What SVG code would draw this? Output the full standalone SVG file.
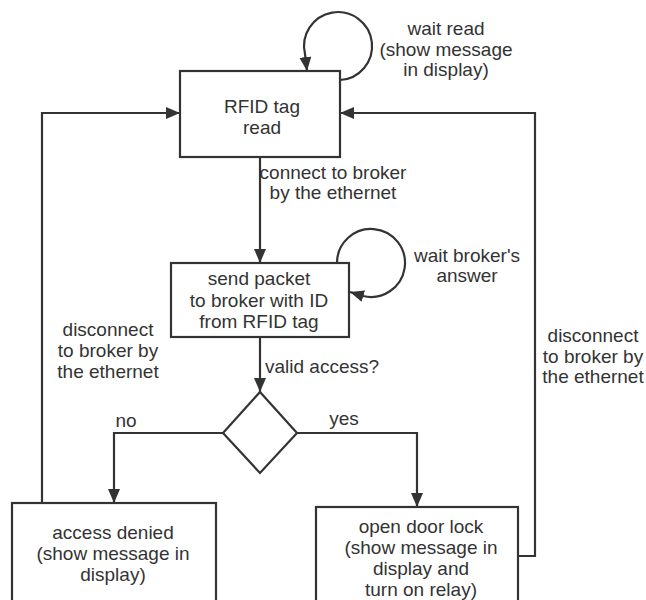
<svg xmlns="http://www.w3.org/2000/svg" width="646" height="600" viewBox="0 0 646 600">
<style>
.box{fill:#fff;stroke:#333;stroke-width:2.2}
.ln{fill:none;stroke:#333;stroke-width:2.2}
.t{font-family:"Liberation Sans",Arial,sans-serif;font-size:19px;fill:#333;text-anchor:middle}
</style>
<defs>
<marker id="arr" viewBox="0 0 14 12" refX="14" refY="6" markerWidth="14" markerHeight="12" markerUnits="userSpaceOnUse" orient="auto">
<path d="M0,0 L14,6 L0,12 z" fill="#333"/>
</marker>
</defs>
<rect width="646" height="600" fill="#fff"/>
<g id="connectors">
<path class="ln" d="M260,157 V263" marker-end="url(#arr)"/>
<path class="ln" d="M260,337 V392" marker-end="url(#arr)"/>
<path class="ln" d="M223,433 H114 V503" marker-end="url(#arr)"/>
<path class="ln" d="M297,433 H417 V507" marker-end="url(#arr)"/>
<path class="ln" d="M42,503 V113 H180" marker-end="url(#arr)"/>
<path class="ln" d="M518,556 H535 V113 H340" marker-end="url(#arr)"/>
<path class="ln" d="M340,80 A34,34 0 1 0 305,54 L307,71" marker-end="url(#arr)"/>
<path class="ln" d="M337,263 A34,34 0 1 1 363,296 L350,292" marker-end="url(#arr)"/>
<text class="t" x="446" y="35">wait read</text>
<text class="t" x="446" y="55.5">(show message</text>
<text class="t" x="446" y="76">in display)</text>
<text class="t" x="333" y="179">connect to broker</text>
<text class="t" x="333" y="199">by the ethernet</text>
<text class="t" x="467" y="262">wait broker's</text>
<text class="t" x="467" y="282">answer</text>
<text class="t" x="108" y="336">disconnect</text>
<text class="t" x="108" y="357">to broker by</text>
<text class="t" x="108" y="378">the ethernet</text>
<text class="t" x="593" y="342">disconnect</text>
<text class="t" x="593" y="363">to broker by</text>
<text class="t" x="593" y="383">the ethernet</text>
<text class="t" x="322" y="373">valid access?</text>
<text class="t" x="126" y="427">no</text>
<text class="t" x="344" y="425">yes</text>
</g>
<g id="rfid">
<rect class="box" x="180" y="71" width="160" height="86"/>
<text class="t" x="262" y="113">RFID tag</text>
<text class="t" x="262" y="134">read</text>
</g>
<g id="send">
<rect class="box" x="171" y="263" width="178" height="74"/>
<text class="t" x="259" y="285">send packet</text>
<text class="t" x="259" y="307">to broker with ID</text>
<text class="t" x="259" y="328">from RFID tag</text>
</g>
<g id="decision">
<polygon class="box" points="260,392 297,433 260,473 223,433"/>
</g>
<g id="denied">
<rect class="box" x="12" y="503" width="204" height="110"/>
<text class="t" x="113" y="539">access denied</text>
<text class="t" x="113" y="560">(show message in</text>
<text class="t" x="113" y="581">display)</text>
</g>
<g id="open">
<rect class="box" x="316" y="507" width="202" height="110"/>
<text class="t" x="421" y="533">open door lock</text>
<text class="t" x="421" y="554">(show message in</text>
<text class="t" x="421" y="575">display and</text>
<text class="t" x="421" y="596">turn on relay)</text>
</g>
</svg>
